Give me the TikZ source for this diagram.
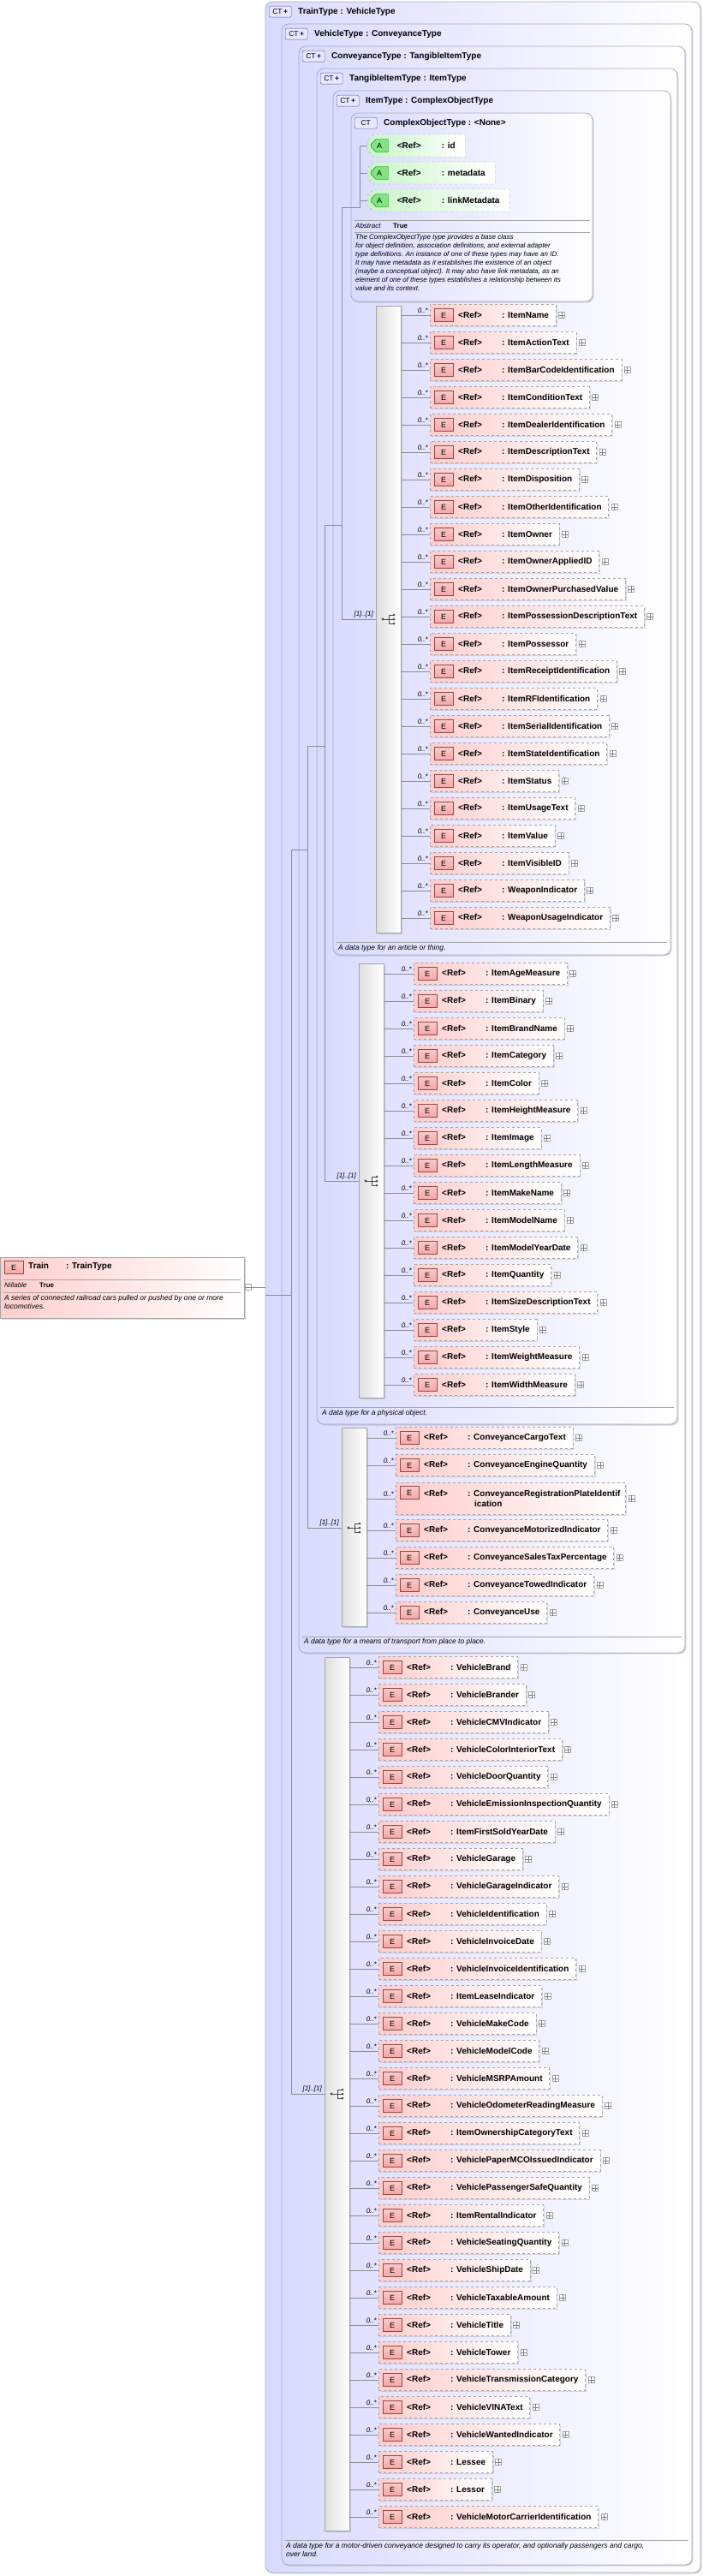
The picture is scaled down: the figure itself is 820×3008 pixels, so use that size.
\documentclass[tikz,border=0pt]{standalone}
\usepackage{fontspec}
\setmainfont{Liberation Sans}
\usetikzlibrary{shapes.misc,shadows}
\definecolor{lav}{RGB}{218,218,255}
\definecolor{lavb}{RGB}{170,170,200}
\definecolor{pinkf}{RGB}{255,205,205}
\definecolor{eicf}{RGB}{246,165,165}
\definecolor{greenf}{RGB}{200,245,200}
\definecolor{ln}{RGB}{140,140,150}
\tikzset{
 tbox/.style={draw=lavb, line width=0.8pt, rounded corners=8pt, left color=lav, right color=white, drop shadow={shadow xshift=1.5pt,shadow yshift=-1.5pt,opacity=.3}},
 cticon/.style={draw=blue!30!gray, fill=lav!80!blue!30, rounded corners=2pt, minimum width=26pt, minimum height=13pt, inner sep=0pt, font=\fontsize{8.5}{9}\selectfont, anchor=north west},
 title/.style={anchor=west, font=\fontsize{10}{12}\selectfont\bfseries, inner sep=0pt},
 elembox/.style={draw=gray!70, dashed, left color=pinkf, right color=white, minimum height=25pt, inner xsep=0pt, inner ysep=0pt, anchor=west, font=\fontsize{10}{12}\selectfont\bfseries, drop shadow={shadow xshift=1.5pt,shadow yshift=-1.5pt,opacity=.25}},
 eicon/.style={draw=red!35!black!70, top color=eicf!60, bottom color=eicf, minimum width=22pt, minimum height=15pt, inner sep=0pt, anchor=west, font=\fontsize{9}{10}\selectfont},
 plusbox/.style={draw=gray!70, fill=white, minimum size=7pt, inner sep=0pt, anchor=west},
 occ/.style={font=\fontsize{8}{9}\selectfont\itshape, inner sep=0pt, anchor=south east},
 conn/.style={draw=ln, line width=0.6pt},
 seqbar/.style={draw=gray!70, left color=gray!25, right color=white, drop shadow={shadow xshift=1.5pt,shadow yshift=-1.5pt,opacity=.3}},
 desc/.style={font=\fontsize{8.5}{10}\selectfont\itshape, inner sep=0pt, anchor=north west, align=left},
 mult/.style={font=\fontsize{8}{9}\selectfont\itshape, inner sep=0pt, anchor=south east},
 attbox/.style={chamfered rectangle, chamfered rectangle corners={north west,south west}, chamfered rectangle xsep=5pt, draw=gray!70, dashed, left color=greenf, right color=white, minimum height=26pt, inner xsep=0pt, inner ysep=0pt, anchor=west, font=\fontsize{10}{12}\selectfont\bfseries},
}
\newcommand\myelem[4]{%
 \node[elembox] (#1) at ({#2},{#3}) {\hspace*{33pt}\makebox[51pt][l]{<Ref>}: #4\hspace*{8pt}};
 \node[eicon] (#1i) at ([xshift=5pt]#1.west) {E};
 \node[plusbox] (#1p) at ([xshift=3pt]#1.east) {};
 \draw[gray] (#1p.north) -- (#1p.south) (#1p.west) -- (#1p.east);
 \node[occ] (#1o) at ([xshift=-2pt,yshift=2pt]#1.west) {0..*};
}
\newcommand\mycompo[3]{% bar name, x of bar left, y
 \fill[black!70] ({#2+8},{#3}) circle (1.6pt);
 \draw[black!70, line width=0.8pt] ({#2+8},{#3}) -- ({#2+15},{#3}) ({#2+15},{#3-5}) -- ({#2+15},{#3+5})
   ({#2+15},{#3-5}) -- ({#2+21},{#3-5}) ({#2+15},{#3}) -- ({#2+21},{#3}) ({#2+15},{#3+5}) -- ({#2+21},{#3+5});
 \fill[black!70] ({#2+21},{#3-5}) circle (1.5pt) ({#2+21},{#3}) circle (1.5pt) ({#2+21},{#3+5}) circle (1.5pt);
}
\newcommand\mytbox[7]{% name, l, t, r, b, title, plus?
 \draw[tbox] (#2,#3) rectangle (#4,#5);
 \node[cticon] (#1i) at ({#2+4},{#3+5}) {CT\ifnum#7=1\,\textcolor{blue!40!black}{\textbf{+}}\fi};
 \node[title] (#1t) at ({#2+38},{#3+11.5}) {#6};
}
\begin{document}
\begin{tikzpicture}[x=1pt,y=-1pt]
\useasboundingbox (0,0) rectangle (820,3008);
% type boxes
\mytbox{trt}{310}{2}{818}{3004}{TrainType : VehicleType}{1}
\mytbox{vet}{329}{28}{808}{2995}{VehicleType : ConveyanceType}{1}
\mytbox{cot}{349}{54}{800}{1930}{ConveyanceType : TangibleItemType}{1}
\mytbox{tit}{370}{80}{791}{1663}{TangibleItemType : ItemType}{1}
\mytbox{itt}{389}{106}{783}{1115}{ItemType : ComplexObjectType}{1}
\mytbox{cxt}{410}{132}{692}{352}{ComplexObjectType : <None>}{0}
% attributes
\foreach \nm/\yy/\id in {id/170/a1, metadata/202/a2, linkMetadata/234/a3}{
 \node[attbox] (\id) at (429,\yy) {\hspace*{31pt}\makebox[52pt][l]{<Ref>}: \nm\hspace*{8pt}};
 \node[draw=green!40!black, fill=green!50!white!80!gray, chamfered rectangle, chamfered rectangle corners={north west,south west}, chamfered rectangle xsep=3pt, minimum width=20pt, minimum height=15pt, inner sep=0pt, anchor=west, font=\fontsize{9}{10}\selectfont] (\id i) at ([xshift=4pt]\id.west) {A};
 \draw[conn] (420,\yy) -- (\id.west);
}
\draw[conn] (420,170) -- (420,242) -- (399,242);
% abstract section
\draw[gray!70, line width=0.8pt] (414,257) -- (689,257) (414,271) -- (689,271);
\node[desc, anchor=west, font=\fontsize{8}{9}\selectfont\itshape] (abs) at (415,264) {Abstract};
\node[anchor=west, inner sep=0pt, font=\fontsize{8}{9}\selectfont\bfseries] (abst) at (459,264) {True};
\node[desc, font=\fontsize{8}{10}\selectfont\itshape] (cxd) at (415,274) {The ComplexObjectType type provides a base class\\for object definition, association definitions, and external adapter\\type definitions. An instance of one of these types may have an ID.\\It may have metadata as it establishes the existence of an object\\(maybe a conceptual object). It may also have link metadata, as an\\element of one of these types establishes a relationship between its\\value and its context.};
% descriptions
\draw[gray!70, line width=0.8pt] (393,1100) -- (779,1100);
\node[desc] (itd) at (395,1103) {A data type for an article or thing.};
\draw[gray!70, line width=0.8pt] (374,1643) -- (787,1643);
\node[desc] (tid) at (376,1646) {A data type for a physical object.};
\draw[gray!70, line width=0.8pt] (353,1911) -- (796,1911);
\node[desc] (cod) at (355,1913) {A data type for a means of transport from place to place.};
\draw[gray!70, line width=0.8pt] (333,2966) -- (804,2966);
\node[desc] (ved) at (334,2969) {A data type for a motor-driven conveyance designed to carry its operator, and optionally passengers and cargo,\\over land.};
% sequence bars
\draw[seqbar] (439,357) rectangle (468,1089); \coordinate (b1) at (468,0);
\draw[seqbar] (419,1125) rectangle (448,1632); \coordinate (b2) at (448,0);
\draw[seqbar] (399,1667) rectangle (428,1899); \coordinate (b3) at (428,0);
\draw[seqbar] (379,1935) rectangle (408,2955); \coordinate (b4) at (408,0);
\mycompo{b1}{439}{723}
\mycompo{b2}{419}{1379}
\mycompo{b3}{399}{1784}
\mycompo{b4}{379}{2445}
% ItemType elements
\foreach \n [count=\i from 0] in {ItemName,ItemActionText,ItemBarCodeIdentification,ItemConditionText,ItemDealerIdentification,ItemDescriptionText,ItemDisposition,ItemOtherIdentification,ItemOwner,ItemOwnerAppliedID,ItemOwnerPurchasedValue,ItemPossessionDescriptionText,ItemPossessor,ItemReceiptIdentification,ItemRFIdentification,ItemSerialIdentification,ItemStateIdentification,ItemStatus,ItemUsageText,ItemValue,ItemVisibleID,WeaponIndicator,WeaponUsageIndicator}{
 \myelem{ia\i}{502}{368+32*\i}{\n}
 \draw[conn] (b1 |- ia\i.west) -- (ia\i.west);
}
\foreach \n [count=\i from 0] in {ItemAgeMeasure,ItemBinary,ItemBrandName,ItemCategory,ItemColor,ItemHeightMeasure,ItemImage,ItemLengthMeasure,ItemMakeName,ItemModelName,ItemModelYearDate,ItemQuantity,ItemSizeDescriptionText,ItemStyle,ItemWeightMeasure,ItemWidthMeasure}{
 \myelem{tb\i}{483}{1137+32*\i}{\n}
 \draw[conn] (b2 |- tb\i.west) -- (tb\i.west);
}
\foreach \n/\yy [count=\i from 0] in {ConveyanceCargoText/1679,ConveyanceEngineQuantity/1711,ConveyanceMotorizedIndicator/1787,ConveyanceSalesTaxPercentage/1819,ConveyanceTowedIndicator/1851,ConveyanceUse/1883}{
 \myelem{cv\i}{462}{\yy}{\n}
 \draw[conn] (b3 |- cv\i.west) -- (cv\i.west);
}
% two-line conveyance element
\node[elembox, minimum height=37pt, align=left] (cvr) at (462,1750) {\hspace*{33pt}\makebox[51pt][l]{<Ref>}: ConveyanceRegistrationPlateIdentif\hspace*{6pt}\\\hspace*{92pt}ication};
\node[eicon] (cvri) at ([xshift=5pt,yshift=7pt]cvr.west) {E};
\node[plusbox] (cvrp) at ([xshift=3pt]cvr.east) {};
\draw[gray] (cvrp.north) -- (cvrp.south) (cvrp.west) -- (cvrp.east);
\node[occ] (cvro) at ([xshift=-2pt,yshift=2pt]cvr.west) {0..*};
\draw[conn] (b3 |- cvr.west) -- (cvr.west);
\foreach \n [count=\i from 0] in {VehicleBrand,VehicleBrander,VehicleCMVIndicator,VehicleColorInteriorText,VehicleDoorQuantity,VehicleEmissionInspectionQuantity,ItemFirstSoldYearDate,VehicleGarage,VehicleGarageIndicator,VehicleIdentification,VehicleInvoiceDate,VehicleInvoiceIdentification,ItemLeaseIndicator,VehicleMakeCode,VehicleModelCode,VehicleMSRPAmount,VehicleOdometerReadingMeasure,ItemOwnershipCategoryText,VehiclePaperMCOIssuedIndicator,VehiclePassengerSafeQuantity,ItemRentalIndicator,VehicleSeatingQuantity,VehicleShipDate,VehicleTaxableAmount,VehicleTitle,VehicleTower,VehicleTransmissionCategory,VehicleVINAText,VehicleWantedIndicator,Lessee,Lessor,VehicleMotorCarrierIdentification}{
 \myelem{vh\i}{442}{1947+32*\i}{\n}
 \draw[conn] (b4 |- vh\i.west) -- (vh\i.west);
}
% Train element
\node[draw=gray!70, line width=0.8pt, left color=pinkf, right color=white, minimum width=285pt, minimum height=71pt, anchor=north west, inner sep=0pt, drop shadow={shadow xshift=1.5pt,shadow yshift=-1.5pt,opacity=.3}] (train) at (0,1468) {};
\node[eicon] (traini) at (5,1480) {E};
\node[title, font=\fontsize{10}{12}\selectfont\bfseries] (traint) at (33,1479) {Train\hspace*{20pt}: TrainType};
\draw[gray!70, line width=0.8pt] (4,1494) -- (281,1494) (4,1509) -- (281,1509);
\node[anchor=west, inner sep=0pt, font=\fontsize{8}{9}\selectfont\itshape] (nil) at (5,1501) {Nillable};
\node[anchor=west, inner sep=0pt, font=\fontsize{8}{9}\selectfont\bfseries] (nilt) at (46,1501) {True};
\node[desc] (trd) at (5,1512) {A series of connected railroad cars pulled or pushed by one or more\\locomotives.};
\node[draw=gray!70, fill=white, minimum size=7pt, inner sep=0pt, anchor=west] (tminus) at (286,1503) {};
\draw[gray] (tminus.west) -- (tminus.east);
% connector tree
\coordinate (t0) at (310,1503);
\draw[conn] (tminus.east) -- (t0);
\draw[conn] (310,1512) -- (340,1512);
\draw[conn] (340,992) -- (340,2445) -- (379,2445);
\draw[conn] (340,992) -- (359,992);
\draw[conn] (359,871) -- (359,1784) -- (399,1784);
\draw[conn] (359,871) -- (379,871);
\draw[conn] (379,613) -- (379,1379) -- (419,1379);
\draw[conn] (379,613) -- (399,613);
\draw[conn] (399,242) -- (399,723) -- (439,723);
\node[mult] (m1) at (436,721) {[1]..[1]};
\node[mult] (m2) at (416,1377) {[1]..[1]};
\node[mult] (m3) at (396,1782) {[1]..[1]};
\node[mult] (m4) at (376,2443) {[1]..[1]};
\end{tikzpicture}
\end{document}
